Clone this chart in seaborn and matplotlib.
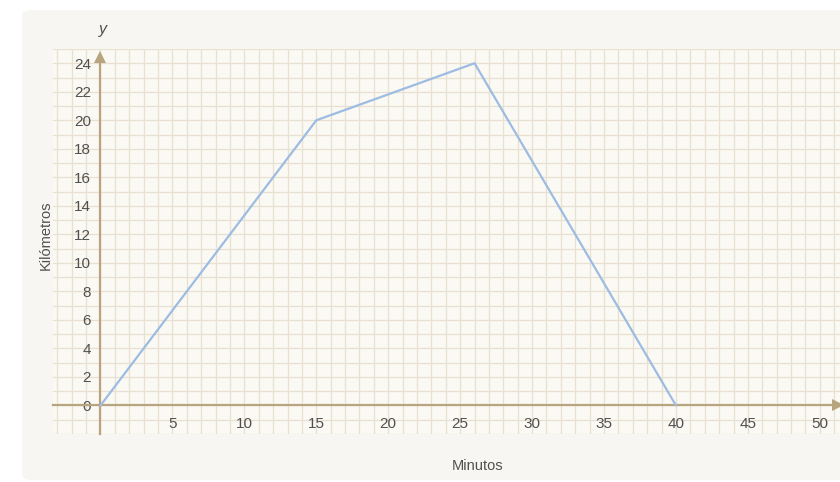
import matplotlib
matplotlib.use("Agg")
import matplotlib.pyplot as plt
from matplotlib.patches import FancyBboxPatch
from matplotlib.ticker import FixedLocator, MultipleLocator
import seaborn as sns
import pandas as pd

# Trip: distance from start (km) against elapsed time (min)
minutes = [0, 15, 26, 40]
kilometres = [0, 20, 24, 0]
x_tick_labels = [5, 10, 15, 20, 25, 30, 35, 40, 45, 50]
y_tick_labels = [0, 2, 4, 6, 8, 10, 12, 14, 16, 18, 20, 22, 24]

df = pd.DataFrame({"Minutos": minutes, "Kilómetros": kilometres})

sns.set_style("white")
plt.rcParams["font.family"] = ["Liberation Sans", "DejaVu Sans"]

AXIS_COLOR = "#b8a47f"
GRID_COLOR = "#e8e0d1"
TEXT_COLOR = "#505050"
LINE_COLOR = "#9dbce2"

XLIM = (-3.3, 51.4)
YLIM = (-2, 25)
AX_RECT = [53 / 840, 48 / 482, 787 / 840, 385 / 482]

fig = plt.figure(figsize=(8.4, 4.82), dpi=100)
fig.patch.set_facecolor("white")

# rounded card behind the chart
card = FancyBboxPatch((22 / 840, 2 / 482), 840 / 840, 470 / 482,
                      boxstyle="round,pad=0,rounding_size=0.012",
                      transform=fig.transFigure, facecolor="#f8f6f2",
                      edgecolor="none", zorder=-5)
fig.patches.append(card)

# graph-paper layer: one square per minute / kilometre
grid_ax = fig.add_axes(AX_RECT, zorder=0)
grid_ax.set_facecolor("#fbf9f4")
grid_ax.set_xlim(*XLIM)
grid_ax.set_ylim(*YLIM)
grid_ax.xaxis.set_major_locator(MultipleLocator(1))
grid_ax.yaxis.set_major_locator(MultipleLocator(1))
grid_ax.grid(True, color=GRID_COLOR, linewidth=0.9)
grid_ax.tick_params(length=0, labelbottom=False, labelleft=False)
for s in grid_ax.spines.values():
    s.set_visible(False)

# main chart layer
ax = fig.add_axes(AX_RECT, zorder=1)
ax.patch.set_alpha(0)

sns.lineplot(data=df, x="Minutos", y="Kilómetros", ax=ax, color=LINE_COLOR,
             linewidth=1.6, zorder=5, sort=False)

ax.set_xlim(*XLIM)
ax.set_ylim(*YLIM)

# axes through the origin
for side in ("top", "right"):
    ax.spines[side].set_visible(False)
ax.spines["left"].set_position(("data", 0))
ax.spines["bottom"].set_position(("data", 0))
ax.spines["left"].set_bounds(-2, 24.3)
ax.spines["bottom"].set_bounds(-3.3, 51.0)
for side in ("left", "bottom"):
    ax.spines[side].set_color(AXIS_COLOR)
    ax.spines[side].set_linewidth(1.6)

ax.plot([0], [24.45], marker="^", markersize=9, color=AXIS_COLOR,
        clip_on=False, zorder=6, markeredgewidth=0)
ax.plot([51.25], [0], marker=">", markersize=9, color=AXIS_COLOR,
        clip_on=False, zorder=6, markeredgewidth=0)

ax.xaxis.set_major_locator(FixedLocator(x_tick_labels))
ax.yaxis.set_major_locator(FixedLocator(y_tick_labels))
ax.xaxis.set_minor_locator(MultipleLocator(1))
ax.yaxis.set_minor_locator(MultipleLocator(1))
ax.xaxis.remove_overlapping_locs = False
ax.yaxis.remove_overlapping_locs = False

ax.tick_params(which="both", direction="inout", length=6, width=1.2,
               color=AXIS_COLOR, labelcolor=TEXT_COLOR, labelsize=11)
ax.tick_params(axis="x", which="major", pad=5)
ax.tick_params(axis="y", which="major", pad=4)

ax.set_xlabel("Minutos", fontsize=10.5, color=TEXT_COLOR)
ax.set_ylabel("Kilómetros", fontsize=10.5, color=TEXT_COLOR)
ax.xaxis.set_label_coords(0.54, -0.065)
ax.yaxis.set_label_coords(0.0, 0.515)

ax.text(0.2, 26.4, "y", fontsize=11.5, style="italic", color=TEXT_COLOR,
        ha="center", va="center", clip_on=False)

fig.savefig("out.png", dpi=100)
